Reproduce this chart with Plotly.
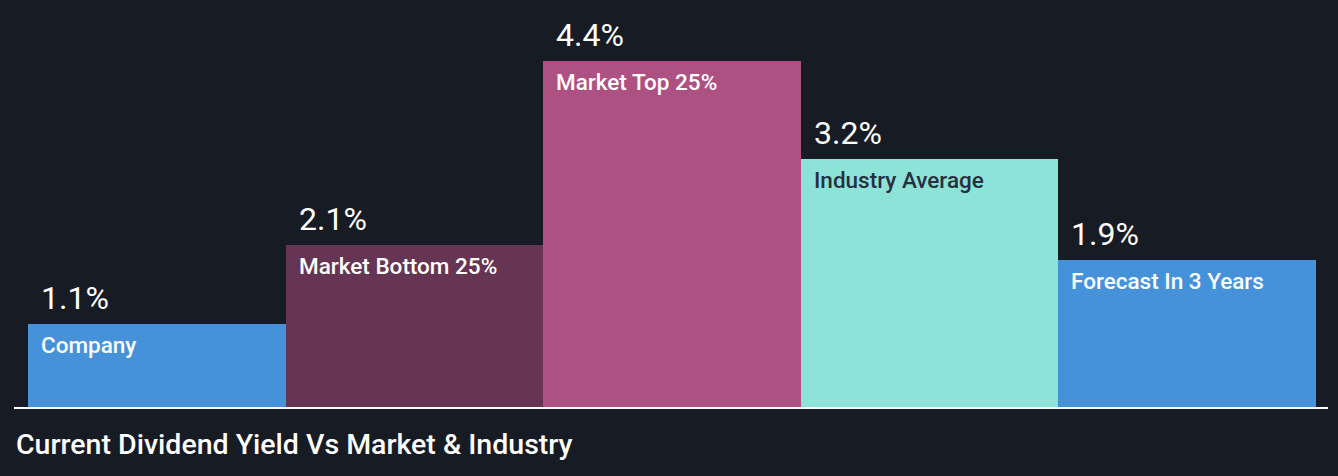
import plotly.graph_objects as go

categories = ["Company", "Market Bottom 25%", "Market Top 25%", "Industry Average", "Forecast In 3 Years"]
values = [1.07, 2.07, 4.40, 3.16, 1.88]
bar_colors = ["#4592DA", "#663554", "#AD5182", "#8DE3D7", "#4592DA"]
label_colors = ["#FFFFFF", "#FFFFFF", "#FFFFFF", "#263040", "#FFFFFF"]
title_text = "Current Dividend Yield Vs Market & Industry"

BG = "#171B24"
W, H = 1338, 476
ML, MR, MT, MB = 28, 22, 0, 68
PW = W - ML - MR

x_idx = list(range(len(categories)))

fig = go.Figure()
fig.add_trace(go.Bar(
    x=x_idx, y=values,
    marker=dict(color=bar_colors, line=dict(width=0)),
    width=1.0, hoverinfo="skip",
))

annotations = []
for i, (cat, v, lc) in enumerate(zip(categories, values, label_colors)):
    annotations.append(dict(
        x=i - 0.5, y=v, xref="x", yref="y",
        text=f"{v:.1f}%", showarrow=False,
        xanchor="left", yanchor="bottom", xshift=11, yshift=5,
        font=dict(family="Roboto", size=32, color="#FFFFFF"),
    ))
    annotations.append(dict(
        x=i - 0.5, y=v, xref="x", yref="y",
        text=cat, showarrow=False,
        xanchor="left", yanchor="top", xshift=11, yshift=-6,
        font=dict(family="Roboto", size=22.5, color=lc, weight=500),
    ))

annotations.append(dict(
    x=(14 - ML) / PW, y=0, xref="paper", yref="paper",
    text=title_text, showarrow=False,
    xanchor="left", yanchor="middle", yshift=-36,
    font=dict(family="Roboto", size=28.5, color="#FFFFFF", weight=500),
))

fig.update_layout(
    width=W, height=H,
    margin=dict(l=ML, r=MR, t=MT, b=MB),
    paper_bgcolor=BG, plot_bgcolor=BG,
    bargap=0, showlegend=False,
    xaxis=dict(range=[-0.5, len(categories) - 0.5], showgrid=False, zeroline=False,
               showticklabels=False, showline=False, fixedrange=True),
    yaxis=dict(range=[0, 5.17], showgrid=False, zeroline=False,
               showticklabels=False, showline=False, fixedrange=True),
    annotations=annotations,
    shapes=[dict(type="line", xref="paper", yref="paper",
                 x0=(14 - ML) / PW, x1=(1328 - ML) / PW, y0=0, y1=0,
                 line=dict(color="#FFFFFF", width=2), layer="above")],
)

fig.write_html("out.html", config={"displayModeBar": False})
